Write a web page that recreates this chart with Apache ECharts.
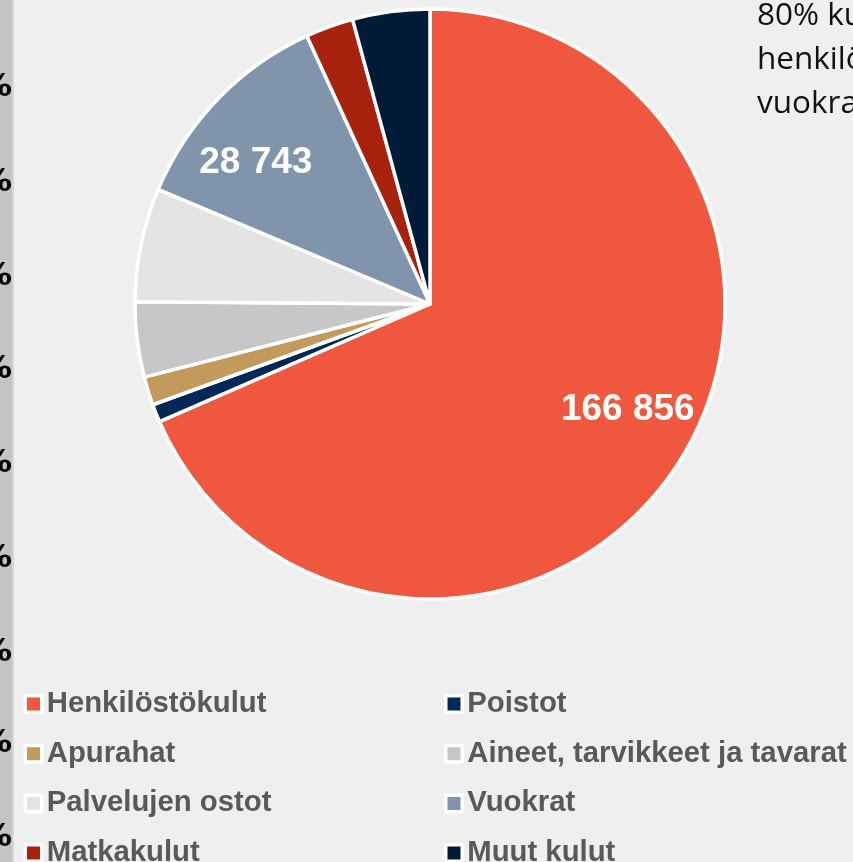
<!DOCTYPE html>
<html>
<head>
<meta charset="utf-8">
<script src="https://cdn.jsdelivr.net/npm/echarts@6/dist/echarts.min.js"></script>
<style>
html,body{margin:0;padding:0;background:#efefef;}
#c{width:853px;height:862px;}
</style>
</head>
<body>
<div id="c"></div>
<script>
var categories = ['Henkilöstökulut','Poistot','Apurahat','Aineet, tarvikkeet ja tavarat','Palvelujen ostot','Vuokrat','Matkakulut','Muut kulut'];
var values = [166856, 2400, 3800, 10000, 15200, 28743, 6400, 10300];
var colors = ['#F0573F','#002856','#C29A5B','#C6C7C6','#E3E4E3','#8094AB','#A8210D','#001B36'];
var legendLeft = ['Henkilöstökulut','Apurahat','Palvelujen ostot','Matkakulut'];
var legendRight = ['Poistot','Aineet, tarvikkeet ja tavarat','Vuokrat','Muut kulut'];
var sideTicks = ['%','%','%','%','%','%','%','%','%'];
var noteLines = ['80% kuluista','henkilöstökulut','vuokrat'];
var labelThreshold = 20000;

function fmt(v){ return String(v).replace(/\B(?=(\d{3})+(?!\d))/g, ' '); }

var chart = echarts.init(document.getElementById('c'), null, {renderer:'canvas'});
var data = categories.map(function(n,i){ return {name:n, value:values[i], itemStyle:{color:colors[i]}}; });
var dataLbl = categories.map(function(n,i){ return {name:n, value:values[i]}; });

var CX = 430, CY = 304, R = 295;
var graphics = [
  {type:'rect', left:0, top:0, shape:{width:12, height:862}, style:{fill:'#C4C4C4'}, z:1},
  {type:'rect', left:12, top:0, shape:{width:2, height:862}, style:{fill:'#D6D6D6'}, z:1}
];
var tickY = [88,183,277,370,464,559,653,744,838];
sideTicks.forEach(function(t,i){
  graphics.push({type:'text', x:12, y:tickY[i], z:5, style:{text:t, align:'right', verticalAlign:'middle', fill:'#000000', fontSize:32, fontWeight:'bold', fontFamily:'"DejaVu Sans", sans-serif'}});
});
var noteY = [32,76,120];
noteLines.forEach(function(t,i){
  graphics.push({type:'text', x:757, y:noteY[i], z:5, style:{text:t, align:'left', verticalAlign:'bottom', fill:'#111111', fontSize:31.5, fontFamily:'"Open Sans", sans-serif'}});
});

var legendCommon = {
  orient:'vertical', top:689, height:200, padding:0, itemGap:19.7, itemWidth:16.5, itemHeight:16.5,
  icon:'rect',
  itemStyle:{borderColor:'#ffffff', borderWidth:3.5},
  textStyle:{color:'#595959', fontSize:29.3, fontWeight:'bold', fontFamily:'"Liberation Sans", Arial, sans-serif', lineHeight:30},
  selectedMode:false
};

chart.setOption({
  backgroundColor:'#efefef',
  animation:false,
  graphic:graphics,
  legend:[
    Object.assign({}, legendCommon, {left:23.5, data:legendLeft}),
    Object.assign({}, legendCommon, {left:444, data:legendRight})
  ],
  series:[
    {
      type:'pie', center:[CX,CY], radius:[0,R], startAngle:90, clockwise:true,
      data:data,
      itemStyle:{borderColor:'#ffffff', borderWidth:3.5},
      label:{show:false}, labelLine:{show:false},
      emphasis:{disabled:true}
    },
    {
      type:'pie', center:[CX,CY], radius:[Math.round(R*0.5),R], startAngle:95, clockwise:true,
      silent:true, legendHoverLink:false,
      data:dataLbl,
      itemStyle:{color:'rgba(0,0,0,0)', borderWidth:0},
      label:{show:true, position:'inside', color:'#ffffff', fontSize:37, fontWeight:'bold',
        fontFamily:'"Liberation Sans", Arial, sans-serif',
        formatter:function(p){ return p.value >= labelThreshold ? fmt(p.value) : ''; }},
      labelLine:{show:false},
      emphasis:{disabled:true}
    }
  ]
});
</script>
</body>
</html>
